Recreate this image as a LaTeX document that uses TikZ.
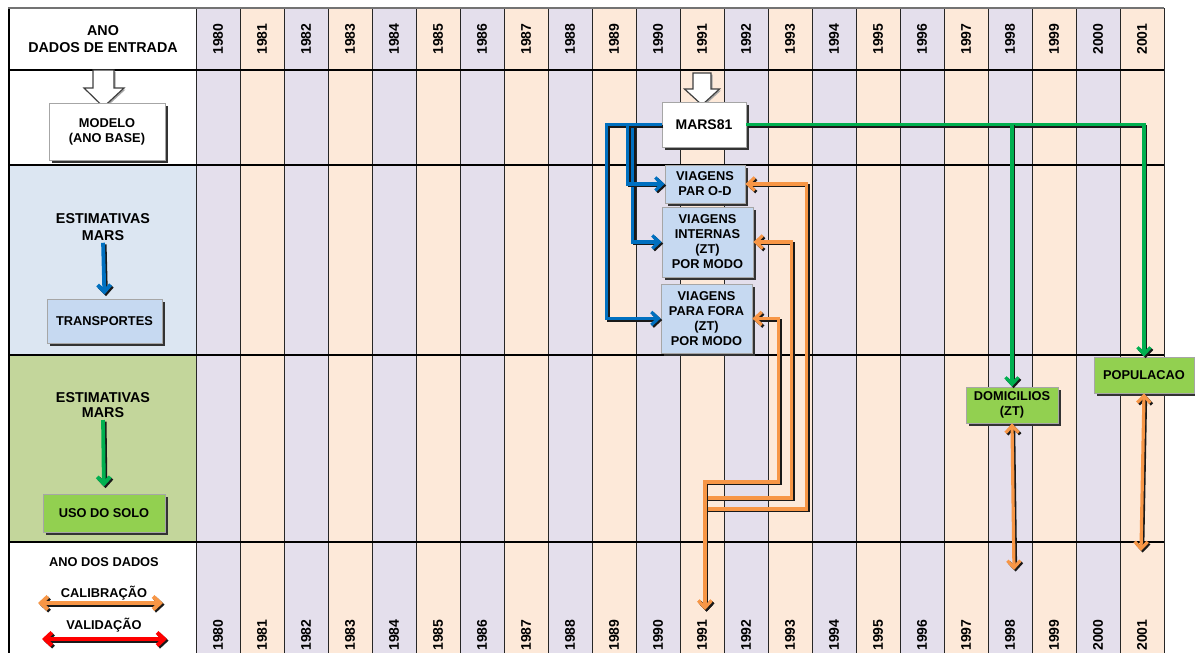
\documentclass[tikz,border=0pt]{standalone}
\usepackage{fontspec}
\setmainfont{Liberation Sans}
\usetikzlibrary{arrows.meta,shadows,calc}
\definecolor{colA}{HTML}{E4DFEC}
\definecolor{colB}{HTML}{FDE9D9}
\definecolor{rowblue}{HTML}{DCE6F2}
\definecolor{rowgreen}{HTML}{C3D69B}
\definecolor{boxblue}{HTML}{C6D9F1}
\definecolor{boxgreen}{HTML}{92D050}
\definecolor{arrblue}{HTML}{0070C0}
\definecolor{arrgreen}{HTML}{00B050}
\definecolor{arrorange}{HTML}{F79646}
\definecolor{arrred}{HTML}{FF0000}

% draw a connector with a dark offset copy underneath it
\newcommand\shdraw[2]{%
  \draw[#1, draw=black!90, transform canvas={shift={(1.6pt,-1.6pt)}}] #2;
  \draw[#1] #2;}

\tikzset{barb/.tip={Straight Barb[length=7pt,width=13pt]}}

\begin{document}
\begin{tikzpicture}[x=1pt,y=-1pt,
  bigtxt/.style={font=\fontsize{14.3}{17}\selectfont\bfseries, align=center, inner sep=0pt},
  smalltxt/.style={font=\fontsize{12.8}{15}\selectfont\bfseries, align=center, inner sep=0pt},
  yeartxt/.style={font=\fontsize{14}{16}\selectfont\bfseries, rotate=90, inner sep=0pt},
  databox/.style={draw=black!35, line width=0.8pt, inner sep=0pt, align=center,
     font=\fontsize{12.8}{15}\selectfont\bfseries,
     drop shadow={shadow xshift=2.5pt, shadow yshift=-2.5pt, fill=black!80, opacity=1}},
  gridv/.style={draw=black!85, line width=1pt},
  gridh/.style={draw=black, line width=1.3pt},
  hollow/.style={fill=white, draw=black!75, line width=1.2pt, line join=miter,
     drop shadow={shadow xshift=1.5pt, shadow yshift=-1.5pt, fill=black!35, opacity=1}},
  blueconn/.style={draw=arrblue, line width=3.2pt, -barb},
  greenconn/.style={draw=arrgreen, line width=3.2pt, -barb},
  calconn/.style={draw=arrorange, line width=3.2pt, barb-barb},
  valconn/.style={draw=arrred, line width=4pt, barb-barb},
]
\useasboundingbox (0,0) rectangle (1195,653);

% year columns
\foreach \i in {0,...,21} {
  \ifodd\i \def\cc{colB}\else \def\cc{colA}\fi
  \pgfmathtruncatemacro\yr{1980+\i}
  \fill[\cc] ({196+44*\i},8) rectangle ({240+44*\i},653);
  \node[yeartxt] (ytop\yr) at ({218+44*\i},39) {\yr};
  \node[yeartxt] (ybot\yr) at ({218+44*\i},635) {\yr};
}

% left column bands
\fill[rowblue] (9,165) rectangle (196,355);
\fill[rowgreen] (9,355) rectangle (196,542);

% grid
\foreach \i in {0,...,22} \draw[gridv] ({196+44*\i},8) -- ({196+44*\i},653);
\draw[gridh] (9,8) -- (9,653);
\foreach \yy in {70,165,355,542} \draw[gridh] (9,\yy) -- (1164,\yy);
\draw[draw=black!55, line width=2pt] (8,8) -- (1164,8);

% left column texts
\node[bigtxt] (header) at (103,39) {ANO\\DADOS DE ENTRADA};
\node[bigtxt] (est1) at (103,227) {ESTIMATIVAS\\MARS};
\node[bigtxt, font=\fontsize{14.3}{15.5}\selectfont\bfseries] (est2) at (103,405) {ESTIMATIVAS\\MARS};
\node[smalltxt] (anodados) at (104,562) {ANO DOS DADOS};
\node[smalltxt] (calib) at (104,593) {CALIBRAÇÃO};
\node[smalltxt] (valid) at (104,625) {VALIDAÇÃO};

% input arrows
\draw[hollow] (93,70) -- (114,70) -- (114,88) -- (124,88) -- (103.5,107) -- (84,88) -- (93,88) -- cycle;
\draw[hollow] (693,73) -- (711,73) -- (711,89) -- (719.5,89) -- (702,105) -- (684.5,89) -- (693,89) -- cycle;

% boxes
\node[databox, fill=white, minimum width=116pt, minimum height=57pt] (modelo) at (107,131.5) {MODELO\\(ANO BASE)};
\node[databox, fill=boxblue, minimum width=115pt, minimum height=44pt] (transp) at (104.5,321) {TRANSPORTES};
\node[databox, fill=boxgreen, minimum width=122pt, minimum height=38pt] (uso) at (104,513) {USO DO SOLO};
\node[databox, fill=white, minimum width=84pt, minimum height=45pt, font=\fontsize{14}{16}\selectfont\bfseries] (mars) at (704,124.5) {MARS81};
\node[databox, fill=boxblue, minimum width=80pt, minimum height=38pt] (parod) at (705,184) {VIAGENS\\PAR O-D};
\node[databox, fill=boxblue, minimum width=91pt, minimum height=70pt] (intern) at (707.5,242) {VIAGENS\\INTERNAS\\(ZT)\\POR MODO};
\node[databox, fill=boxblue, minimum width=91pt, minimum height=69pt] (fora) at (706.5,318.5) {VIAGENS\\PARA FORA\\(ZT)\\POR MODO};
\node[databox, fill=boxgreen, minimum width=92pt, minimum height=36pt] (domic) at (1012,405) {DOMICILIOS\\(ZT)};
\node[databox, fill=boxgreen, minimum width=100pt, minimum height=36pt] (popul) at (1144,375) {POPULACAO};

% left column arrows
\shdraw{blueconn, line width=3.8pt, shorten <=2pt, shorten >=4pt}{(est1.south) -- (transp.north)}
\shdraw{greenconn, line width=3.8pt, shorten <=2pt, shorten >=7pt}{(est2.south) -- (uso.north)}

% MARS outputs: transport estimates
\shdraw{blueconn}{(mars.west) -- ++(-55,0) |- (fora.west)}
\shdraw{blueconn}{(mars.west) -- ++(-29,0) |- (intern.west)}
\shdraw{blueconn}{(mars.west) -- ++(-34,0) |- (parod.west)}

% MARS outputs: land use estimates
\shdraw{greenconn}{(mars.east) -| (popul.north)}
\shdraw{greenconn}{(mars.east) -| (domic.north)}

% calibration links to data years
\coordinate (y1991) at (705,610);
\coordinate (y1998) at (1014,570);
\coordinate (y2001) at (1141,551);
\shdraw{calconn}{(parod.east) -- ++(61,0) |- (y1991 |- 0,509) -- (y1991)}
\shdraw{calconn}{(intern.east) -- ++(38,0) |- (y1991 |- 0,498) -- (y1991)}
\shdraw{calconn}{(fora.east) -- ++(26,0) |- (y1991 |- 0,482) -- (y1991)}
\shdraw{calconn}{(domic.south) -- (y1998)}
\shdraw{calconn}{(popul.south) -- (y2001)}

% legend
\coordinate (cl) at (38,603);
\coordinate (cr) at (163,603);
\coordinate (vl) at (42,639);
\coordinate (vr) at (167,639);
\shdraw{calconn, line width=4pt}{(cl) -- (cr)}
\shdraw{valconn}{(vl) -- (vr)}
\end{tikzpicture}
\end{document}
